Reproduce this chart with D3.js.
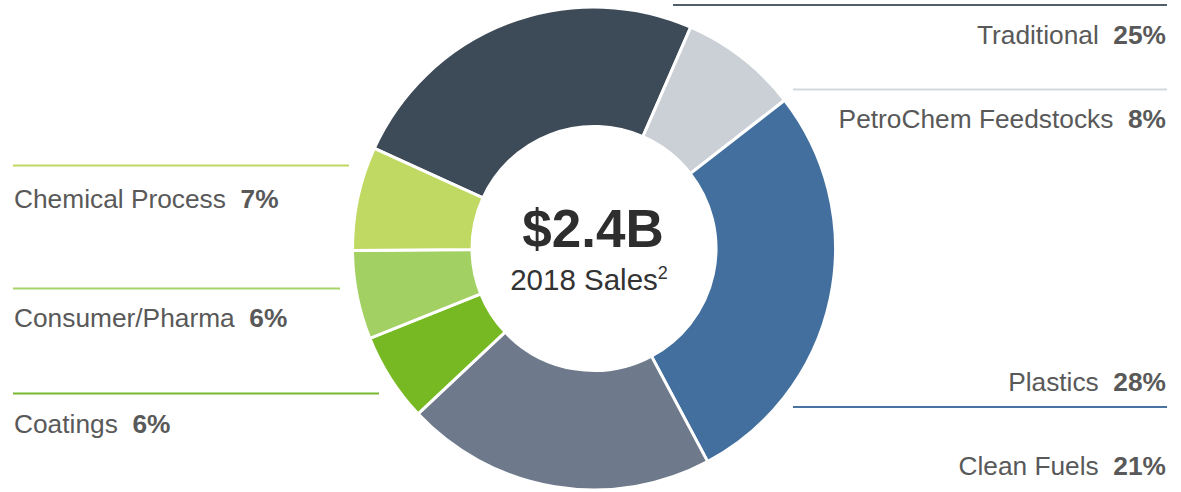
<!DOCTYPE html>
<html lang="en">
<head>
    <meta charset="UTF-8">
    <title>2018 Sales by segment</title>
    <script src="https://d3js.org/d3.v7.min.js"></script>
    <style>
        body { margin: 0; background: #ffffff; }
        svg { display: block; font-family: "Liberation Sans", Arial, sans-serif; }
    </style>
</head>
<body>
    <svg id="chart" width="1181" height="492"></svg>
    <script>
        // Segments, clockwise from the upper-left
        const segments = ["Traditional", "PetroChem Feedstocks", "Plastics", "Clean Fuels", "Coatings", "Consumer/Pharma", "Chemical Process"];
        const shares = [25, 8, 28, 21, 6, 6, 7];
        const colors = ["#3d4a57", "#cbcfd6", "#426f9d", "#6e7a8b", "#77b922", "#a2d063", "#bfd962"];

        // Label side and rule colors
        const labelSide = ["right", "right", "right", "right", "left", "left", "left"];
        const ruleColors = ["#545d6a", "#d3d7dc", "#4a72a0", null, "#7ab92d", "#a5d46a", "#bed960"];

        const totalLabel = "$2.4B";
        const subLabel = "2018 Sales";

        const svg = d3.select("#chart");
        const cx = 594, cy = 248.5;
        const outerR = 241.5, innerR = 122;

        // Pie layout, keep given order; start so Traditional begins at upper-left
        const startA = -65.5 * Math.PI / 180;
        const pie = d3.pie().sort(null).value(d => d)
            .startAngle(startA).endAngle(startA + 2 * Math.PI);
        const arc = d3.arc().innerRadius(innerR).outerRadius(outerR);

        const g = svg.append("g").attr("transform", `translate(${cx},${cy})`);
        g.selectAll("path")
            .data(pie(shares))
            .enter()
            .append("path")
            .attr("d", arc)
            .attr("fill", (d, i) => colors[i])
            .attr("stroke", "#ffffff")
            .attr("stroke-width", 3)
            .attr("stroke-linejoin", "miter");

        // Label positions (baseline y) and rules
        const labelY = [44, 128, 391, 475, 433, 327, 208];
        const rules = [
            { i: 0, x1: 673, x2: 1167, y: 5 },
            { i: 1, x1: 793, x2: 1167, y: 89.5 },
            { i: 2, x1: 793, x2: 1167, y: 407 },
            { i: 6, x1: 13, x2: 349, y: 165.5 },
            { i: 5, x1: 13, x2: 340, y: 288.5 },
            { i: 4, x1: 13, x2: 379, y: 393.5 }
        ];

        svg.selectAll("line.rule")
            .data(rules)
            .enter()
            .append("line")
            .attr("class", "rule")
            .attr("x1", d => d.x1).attr("x2", d => d.x2)
            .attr("y1", d => d.y).attr("y2", d => d.y)
            .attr("stroke", d => ruleColors[d.i])
            .attr("stroke-width", 2);

        segments.forEach(function(name, i) {
            const right = labelSide[i] === "right";
            const t = svg.append("text")
                .attr("x", right ? 1166 : 14)
                .attr("y", labelY[i])
                .attr("text-anchor", right ? "end" : "start")
                .attr("font-size", 26.3)
                .attr("fill", "#595959")
                .attr("xml:space", "preserve");
            t.append("tspan").text(name + "  ");
            t.append("tspan").attr("font-weight", "bold").text(shares[i] + "%");
        });

        // Center text
        svg.append("text")
            .attr("x", cx - 1)
            .attr("y", 247)
            .attr("text-anchor", "middle")
            .attr("font-size", 53)
            .attr("font-weight", "bold")
            .attr("fill", "#2e2e2e")
            .text(totalLabel);

        const sub = svg.append("text")
            .attr("x", cx - 5)
            .attr("y", 290)
            .attr("text-anchor", "middle")
            .attr("font-size", 29.5)
            .attr("fill", "#333333");
        sub.append("tspan").text(subLabel);
        sub.append("tspan").attr("font-size", 18).attr("dy", -11).text("2");
    </script>
</body>
</html>
